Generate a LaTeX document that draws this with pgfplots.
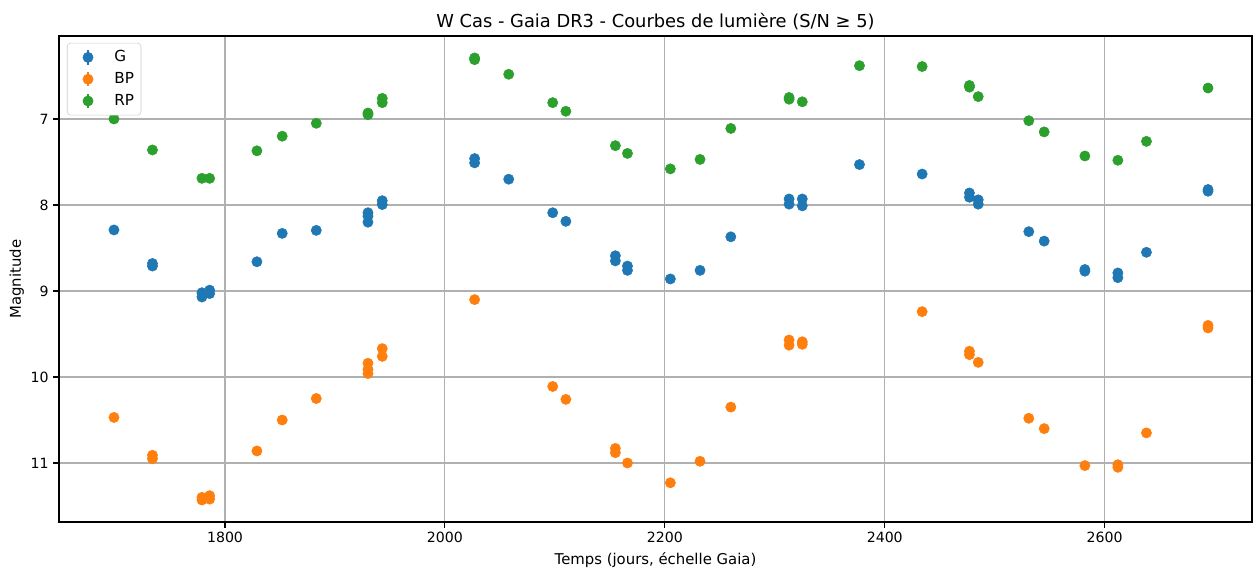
\documentclass[border=0pt]{standalone}
\usepackage{fontspec}
\setmainfont{DejaVu Sans}
\usepackage{pgfplots}
\usepackage{pgfplotstable}
\pgfplotsset{compat=1.18}

\definecolor{cG}{HTML}{1F77B4}
\definecolor{cBP}{HTML}{FF7F0E}
\definecolor{cRP}{HTML}{2CA02C}
\definecolor{gridc}{HTML}{B0B0B0}

\pgfplotstableread{
t mag
1699 8.29
1734 8.68
1734 8.71
1779 9.02
1779 9.07
1786 8.99
1786 9.03
1829 8.66
1852 8.33
1883 8.295
1930 8.09
1930 8.13
1930 8.20
1943 7.95
1943 7.995
2027 7.46
2027 7.51
2058 7.70
2098 8.09
2110 8.19
2155 8.59
2155 8.65
2166 8.71
2166 8.76
2205 8.86
2232 8.76
2260 8.37
2313 7.93
2313 7.99
2325 7.93
2325 8.01
2377 7.53
2434 7.64
2477 7.86
2477 7.91
2485 7.94
2485 7.99
2531 8.31
2545 8.42
2582 8.75
2582 8.77
2612 8.79
2612 8.845
2638 8.55
2694 7.82
2694 7.84
}\gdata

\pgfplotstableread{
t mag
1699 10.47
1734 10.91
1734 10.95
1779 11.40
1779 11.43
1786 11.38
1786 11.42
1829 10.86
1852 10.50
1883 10.25
1930 9.84
1930 9.91
1930 9.96
1943 9.67
1943 9.76
2027 9.10
2098 10.11
2110 10.26
2155 10.83
2155 10.88
2166 11.00
2205 11.23
2232 10.98
2260 10.35
2313 9.57
2313 9.63
2325 9.59
2325 9.62
2434 9.24
2477 9.70
2477 9.74
2485 9.83
2531 10.48
2545 10.60
2582 11.03
2612 11.02
2612 11.05
2638 10.65
2694 9.40
2694 9.43
}\bpdata

\pgfplotstableread{
t mag
1699 7.00
1734 7.36
1779 7.69
1786 7.69
1829 7.37
1852 7.20
1883 7.05
1930 6.93
1930 6.95
1943 6.76
1943 6.81
2027 6.29
2027 6.31
2058 6.48
2098 6.81
2110 6.91
2155 7.31
2166 7.40
2205 7.58
2232 7.47
2260 7.11
2313 6.75
2313 6.77
2325 6.80
2377 6.38
2434 6.39
2477 6.61
2477 6.63
2485 6.74
2531 7.02
2545 7.15
2582 7.43
2612 7.48
2638 7.26
2694 6.64
}\rpdata

% legend handle: dot with a short vertical error bar
\pgfplotsset{
  errleg/.style={legend image code/.code={
    \path[draw=none, fill=none] (0pt,-1pt) rectangle (29pt,1pt);
    \draw[#1,line width=1.1pt] (12pt,-5.2pt) -- (12pt,5.2pt);
    \fill[#1] (12pt,0pt) circle (3.7pt);
  }}
}

\begin{document}
\begin{tikzpicture}
\begin{axis}[
  scale only axis,
  width=11.93in, height=4.86in,
  xmin=1649, xmax=2734,
  ymin=6.035, ymax=11.686,
  y dir=reverse,
  xtick={1800,2000,2200,2400,2600},
  ytick={7,8,9,10,11},
  xticklabel style={/pgf/number format/set thousands separator={}},
  /pgf/number format/assume math mode=true,
  tick label style={font=\fontsize{10.2}{12}\selectfont},
  label style={font=\fontsize{10.75}{12}\selectfont},
  xlabel style={at={(axis description cs:0.5,0)}, anchor=base, yshift=-31pt},
  ylabel style={at={(axis description cs:0,0.5)}, anchor=base, yshift=27.5pt},
  title style={font=\fontsize{12.9}{15}\selectfont, at={(axis description cs:0.5,1)}, anchor=base, yshift=0.5pt},
  title={W Cas - Gaia DR3 - Courbes de lumière (S/N ≥ 5)},
  xlabel={Temps (jours, échelle Gaia)},
  ylabel={Magnitude},
  xtick pos=left, ytick pos=left,
  tick align=outside,
  major tick length=4pt,
  every tick/.style={black, line width=0.8pt},
  axis line style={line width=0.8pt},
  grid=major,
  major grid style={gridc, line width=0.8pt},
  legend style={at={(0.0067,0.986)}, anchor=north west,
    draw=black!20, rounded corners=2.5pt, font=\fontsize{11}{13}\selectfont,
    row sep=2.2pt, inner xsep=3pt, inner ysep=3.5pt},
  legend cell align=left,
]
\addplot[only marks, mark=*, mark size=3.7pt, cG, mark options={draw=cG, fill=cG}, errleg=cG] table[x=t, y=mag] {\gdata};
\addlegendentry{G}
\addplot[only marks, mark=*, mark size=3.7pt, cBP, mark options={draw=cBP, fill=cBP}, errleg=cBP] table[x=t, y=mag] {\bpdata};
\addlegendentry{BP}
\addplot[only marks, mark=*, mark size=3.7pt, cRP, mark options={draw=cRP, fill=cRP}, errleg=cRP] table[x=t, y=mag] {\rpdata};
\addlegendentry{RP}
\end{axis}
\path (current axis.south west) ++(-0.59in,-0.47in) coordinate (bl);
\path (current axis.north east) ++(0.01in,0.36in) coordinate (tr);
\path (bl) rectangle (tr);
\end{tikzpicture}
\end{document}
